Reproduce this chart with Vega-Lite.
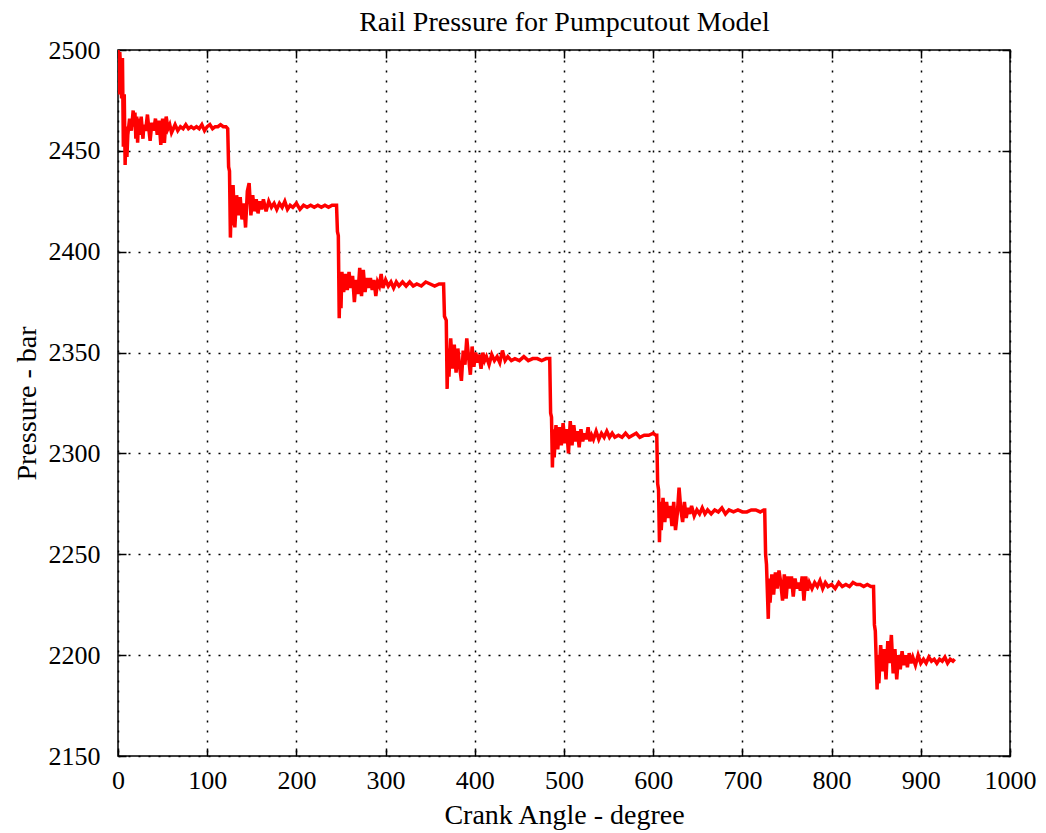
{
  "$schema": "https://vega.github.io/schema/vega-lite/v6.json",
  "width": 892,
  "height": 706,
  "autosize": {"type": "none"},
  "padding": {"left": 118, "top": 50, "right": 36, "bottom": 77},
  "background": "white",
  "config": {"view": {"stroke": "black", "strokeWidth": 1.5}},
  "data": {"values": [
    {"a":0,"p":2500},{"a":1,"p":2478},{"a":2,"p":2499},{"a":3,"p":2490},{"a":4,"p":2476},{"a":5,"p":2496},{"a":6,"p":2452},{"a":7,"p":2478},{"a":8,"p":2443},{"a":9,"p":2462},{"a":10,"p":2447},{"a":11,"p":2458},{"a":13,"p":2466},{"a":15,"p":2460},{"a":17,"p":2470},{"a":18,"p":2462},{"a":19,"p":2469},{"a":20,"p":2456},{"a":21,"p":2467},{"a":22,"p":2454},{"a":23,"p":2466},{"a":25,"p":2458},{"a":26,"p":2467},{"a":28,"p":2456},{"a":29,"p":2463},{"a":31,"p":2460},{"a":33,"p":2468},{"a":35,"p":2459},{"a":36,"p":2455},{"a":38,"p":2464},{"a":40,"p":2460},{"a":42,"p":2466},{"a":44,"p":2458},{"a":46,"p":2465},{"a":48,"p":2453},{"a":50,"p":2466},{"a":52,"p":2454},{"a":54,"p":2467},{"a":56,"p":2461},{"a":58,"p":2463},{"a":60,"p":2459},{"a":62,"p":2461},{"a":64,"p":2463},{"a":67,"p":2460},{"a":70,"p":2462},{"a":73,"p":2461},{"a":76,"p":2463},{"a":79,"p":2461},{"a":82,"p":2462},{"a":85,"p":2461},{"a":88,"p":2462},{"a":91,"p":2461},{"a":94,"p":2463},{"a":97,"p":2460},{"a":100,"p":2462},{"a":103,"p":2463},{"a":106,"p":2461},{"a":109,"p":2462},{"a":112,"p":2462},{"a":115,"p":2463},{"a":118,"p":2462},{"a":121,"p":2462},{"a":123,"p":2461},
    {"a":124,"p":2442},{"a":125,"p":2440},{"a":126,"p":2407},{"a":127,"p":2425},{"a":128,"p":2413},{"a":129,"p":2433},{"a":131,"p":2412},{"a":133,"p":2428},{"a":135,"p":2418},{"a":137,"p":2427},{"a":139,"p":2416},{"a":141,"p":2424},{"a":143,"p":2412},{"a":145,"p":2430},{"a":147,"p":2434},{"a":149,"p":2418},{"a":151,"p":2428},{"a":153,"p":2420},{"a":155,"p":2426},{"a":157,"p":2419},{"a":159,"p":2425},{"a":161,"p":2421},{"a":163,"p":2426},{"a":166,"p":2420},{"a":169,"p":2425},{"a":172,"p":2422},{"a":175,"p":2424},{"a":178,"p":2421},{"a":181,"p":2424},{"a":184,"p":2422},{"a":187,"p":2425},{"a":190,"p":2421},{"a":193,"p":2423},{"a":196,"p":2422},{"a":200,"p":2424},{"a":204,"p":2421},{"a":208,"p":2423},{"a":212,"p":2422},{"a":216,"p":2423},{"a":220,"p":2422},{"a":224,"p":2423},{"a":228,"p":2422},{"a":232,"p":2423},{"a":236,"p":2422},{"a":240,"p":2423},{"a":244,"p":2423},
    {"a":245,"p":2423},{"a":246,"p":2410},{"a":247,"p":2408},{"a":248,"p":2367},{"a":249,"p":2389},{"a":250,"p":2372},{"a":251,"p":2390},{"a":253,"p":2380},{"a":255,"p":2389},{"a":257,"p":2381},{"a":259,"p":2390},{"a":261,"p":2382},{"a":263,"p":2388},{"a":265,"p":2375},{"a":267,"p":2386},{"a":269,"p":2379},{"a":271,"p":2392},{"a":273,"p":2378},{"a":275,"p":2391},{"a":277,"p":2380},{"a":279,"p":2387},{"a":281,"p":2382},{"a":283,"p":2387},{"a":285,"p":2381},{"a":287,"p":2386},{"a":289,"p":2378},{"a":291,"p":2385},{"a":293,"p":2383},{"a":295,"p":2389},{"a":297,"p":2382},{"a":300,"p":2386},{"a":303,"p":2383},{"a":306,"p":2385},{"a":309,"p":2382},{"a":312,"p":2385},{"a":315,"p":2383},{"a":319,"p":2385},{"a":323,"p":2383},{"a":327,"p":2385},{"a":331,"p":2383},{"a":335,"p":2384},{"a":340,"p":2383},{"a":345,"p":2385},{"a":350,"p":2384},{"a":355,"p":2383},{"a":360,"p":2384},{"a":364,"p":2384},
    {"a":365,"p":2384},{"a":366,"p":2368},{"a":368,"p":2366},{"a":369,"p":2332},{"a":370,"p":2352},{"a":371,"p":2338},{"a":373,"p":2357},{"a":375,"p":2342},{"a":377,"p":2354},{"a":379,"p":2340},{"a":381,"p":2352},{"a":383,"p":2343},{"a":385,"p":2336},{"a":387,"p":2351},{"a":389,"p":2344},{"a":391,"p":2357},{"a":393,"p":2348},{"a":395,"p":2339},{"a":397,"p":2353},{"a":399,"p":2343},{"a":401,"p":2350},{"a":403,"p":2345},{"a":405,"p":2349},{"a":407,"p":2342},{"a":409,"p":2350},{"a":411,"p":2346},{"a":413,"p":2348},{"a":416,"p":2344},{"a":419,"p":2349},{"a":422,"p":2346},{"a":425,"p":2348},{"a":428,"p":2345},{"a":431,"p":2351},{"a":434,"p":2346},{"a":437,"p":2348},{"a":441,"p":2346},{"a":445,"p":2347},{"a":450,"p":2346},{"a":455,"p":2348},{"a":460,"p":2346},{"a":465,"p":2347},{"a":470,"p":2347},{"a":475,"p":2346},{"a":480,"p":2347},{"a":483,"p":2347},
    {"a":484,"p":2347},{"a":485,"p":2320},{"a":486,"p":2318},{"a":487,"p":2293},{"a":488,"p":2312},{"a":489,"p":2298},{"a":491,"p":2314},{"a":493,"p":2302},{"a":495,"p":2313},{"a":497,"p":2304},{"a":499,"p":2315},{"a":501,"p":2305},{"a":503,"p":2312},{"a":505,"p":2300},{"a":507,"p":2316},{"a":509,"p":2304},{"a":511,"p":2314},{"a":513,"p":2306},{"a":515,"p":2311},{"a":517,"p":2303},{"a":519,"p":2312},{"a":521,"p":2306},{"a":523,"p":2310},{"a":525,"p":2307},{"a":527,"p":2313},{"a":529,"p":2306},{"a":531,"p":2309},{"a":533,"p":2307},{"a":536,"p":2311},{"a":539,"p":2307},{"a":542,"p":2310},{"a":545,"p":2308},{"a":548,"p":2311},{"a":551,"p":2308},{"a":554,"p":2310},{"a":557,"p":2308},{"a":561,"p":2309},{"a":565,"p":2308},{"a":569,"p":2310},{"a":573,"p":2308},{"a":577,"p":2309},{"a":581,"p":2310},{"a":585,"p":2308},{"a":590,"p":2309},{"a":595,"p":2309},{"a":600,"p":2310},{"a":603,"p":2309},
    {"a":604,"p":2309},{"a":605,"p":2285},{"a":606,"p":2282},{"a":607,"p":2256},{"a":608,"p":2276},{"a":609,"p":2262},{"a":611,"p":2278},{"a":613,"p":2266},{"a":615,"p":2276},{"a":617,"p":2268},{"a":619,"p":2274},{"a":621,"p":2264},{"a":623,"p":2276},{"a":625,"p":2262},{"a":627,"p":2270},{"a":629,"p":2283},{"a":631,"p":2272},{"a":633,"p":2266},{"a":635,"p":2276},{"a":637,"p":2268},{"a":639,"p":2273},{"a":641,"p":2270},{"a":643,"p":2274},{"a":646,"p":2269},{"a":649,"p":2272},{"a":652,"p":2270},{"a":655,"p":2273},{"a":658,"p":2270},{"a":661,"p":2272},{"a":665,"p":2270},{"a":669,"p":2272},{"a":673,"p":2271},{"a":677,"p":2273},{"a":681,"p":2270},{"a":685,"p":2272},{"a":690,"p":2271},{"a":695,"p":2272},{"a":700,"p":2271},{"a":705,"p":2271},{"a":710,"p":2272},{"a":715,"p":2272},{"a":720,"p":2271},{"a":724,"p":2272},
    {"a":725,"p":2272},{"a":726,"p":2250},{"a":727,"p":2245},{"a":729,"p":2218},{"a":730,"p":2238},{"a":731,"p":2226},{"a":733,"p":2240},{"a":735,"p":2230},{"a":737,"p":2241},{"a":739,"p":2233},{"a":741,"p":2242},{"a":743,"p":2236},{"a":745,"p":2227},{"a":747,"p":2240},{"a":749,"p":2228},{"a":751,"p":2239},{"a":753,"p":2233},{"a":755,"p":2239},{"a":757,"p":2229},{"a":759,"p":2238},{"a":761,"p":2233},{"a":763,"p":2236},{"a":765,"p":2232},{"a":767,"p":2239},{"a":769,"p":2227},{"a":771,"p":2239},{"a":773,"p":2232},{"a":775,"p":2236},{"a":778,"p":2233},{"a":781,"p":2236},{"a":784,"p":2234},{"a":787,"p":2237},{"a":790,"p":2233},{"a":793,"p":2236},{"a":796,"p":2234},{"a":800,"p":2235},{"a":804,"p":2233},{"a":808,"p":2236},{"a":812,"p":2234},{"a":816,"p":2235},{"a":820,"p":2234},{"a":824,"p":2236},{"a":828,"p":2235},{"a":832,"p":2235},{"a":836,"p":2234},{"a":840,"p":2235},{"a":844,"p":2234},{"a":846,"p":2234},
    {"a":847,"p":2234},{"a":848,"p":2215},{"a":849,"p":2212},{"a":851,"p":2183},{"a":852,"p":2200},{"a":853,"p":2186},{"a":855,"p":2205},{"a":857,"p":2192},{"a":859,"p":2203},{"a":861,"p":2188},{"a":863,"p":2207},{"a":865,"p":2196},{"a":867,"p":2210},{"a":869,"p":2191},{"a":871,"p":2203},{"a":873,"p":2188},{"a":875,"p":2200},{"a":877,"p":2193},{"a":879,"p":2202},{"a":881,"p":2195},{"a":883,"p":2200},{"a":885,"p":2194},{"a":887,"p":2201},{"a":889,"p":2196},{"a":891,"p":2199},{"a":894,"p":2195},{"a":897,"p":2200},{"a":900,"p":2196},{"a":903,"p":2198},{"a":906,"p":2196},{"a":909,"p":2199},{"a":912,"p":2197},{"a":915,"p":2198},{"a":918,"p":2196},{"a":921,"p":2198},{"a":924,"p":2197},{"a":927,"p":2199},{"a":930,"p":2196},{"a":933,"p":2198},{"a":936,"p":2197},{"a":938,"p":2198}
  ]},
  "layer": [
    {
      "mark": {"type": "line", "color": "#ff0000", "strokeWidth": 3.5, "clip": true},
      "encoding": {
        "x": {"field": "a", "type": "quantitative", "scale": {"domain": [0, 1000], "nice": false, "zero": false},
          "axis": {"orient": "bottom", "values": [0,100,200,300,400,500,600,700,800,900,1000], "format": "d", "grid": true, "gridColor": "black", "gridDash": [2, 8], "gridWidth": 1.5, "gridOpacity": 1, "domain": false, "tickSize": -8, "tickColor": "black", "tickWidth": 1.5, "labelPadding": 19, "labelFont": "Liberation Serif", "labelFontSize": 26, "labelColor": "black", "labelFlush": false, "labelOverlap": false, "title": "Crank Angle - degree", "titleFont": "Liberation Serif", "titleFontSize": 28, "titleFontWeight": "normal", "titleColor": "black", "titleX": 446, "titleY": 59, "titleBaseline": "middle", "titleAlign": "center"}},
        "y": {"field": "p", "type": "quantitative", "scale": {"domain": [2150, 2500], "nice": false, "zero": false},
          "axis": {"orient": "left", "values": [2150,2200,2250,2300,2350,2400,2450,2500], "format": "d", "grid": true, "gridColor": "black", "gridDash": [2, 8], "gridWidth": 1.5, "gridOpacity": 1, "domain": false, "tickSize": -8, "tickColor": "black", "tickWidth": 1.5, "labelPadding": 26, "labelFont": "Liberation Serif", "labelFontSize": 26, "labelColor": "black", "labelFlush": false, "labelOverlap": false, "title": "Pressure - bar", "titleFont": "Liberation Serif", "titleFontSize": 28, "titleFontWeight": "normal", "titleColor": "black", "titleX": -91, "titleY": 353, "titleAngle": -90, "titleBaseline": "middle", "titleAlign": "center"}}
      }
    },
    {
      "mark": {"type": "line", "opacity": 0},
      "encoding": {
        "x": {"field": "a", "type": "quantitative", "scale": {"domain": [0, 1000], "nice": false, "zero": false},
          "axis": {"orient": "top", "values": [0,100,200,300,400,500,600,700,800,900,1000], "grid": false, "domain": false, "labels": false, "tickSize": -8, "tickColor": "black", "tickWidth": 1.5, "title": "Rail Pressure for Pumpcutout Model", "titleFont": "Liberation Serif", "titleFontSize": 28, "titleFontWeight": "normal", "titleColor": "black", "titleX": 446, "titleY": -28, "titleBaseline": "middle", "titleAlign": "center"}},
        "y": {"field": "p", "type": "quantitative", "scale": {"domain": [2150, 2500], "nice": false, "zero": false},
          "axis": {"orient": "right", "values": [2150,2200,2250,2300,2350,2400,2450,2500], "grid": false, "domain": false, "labels": false, "title": null, "tickSize": -8, "tickColor": "black", "tickWidth": 1.5}}
      }
    }
  ],
  "resolve": {"axis": {"x": "independent", "y": "independent"}}
}
